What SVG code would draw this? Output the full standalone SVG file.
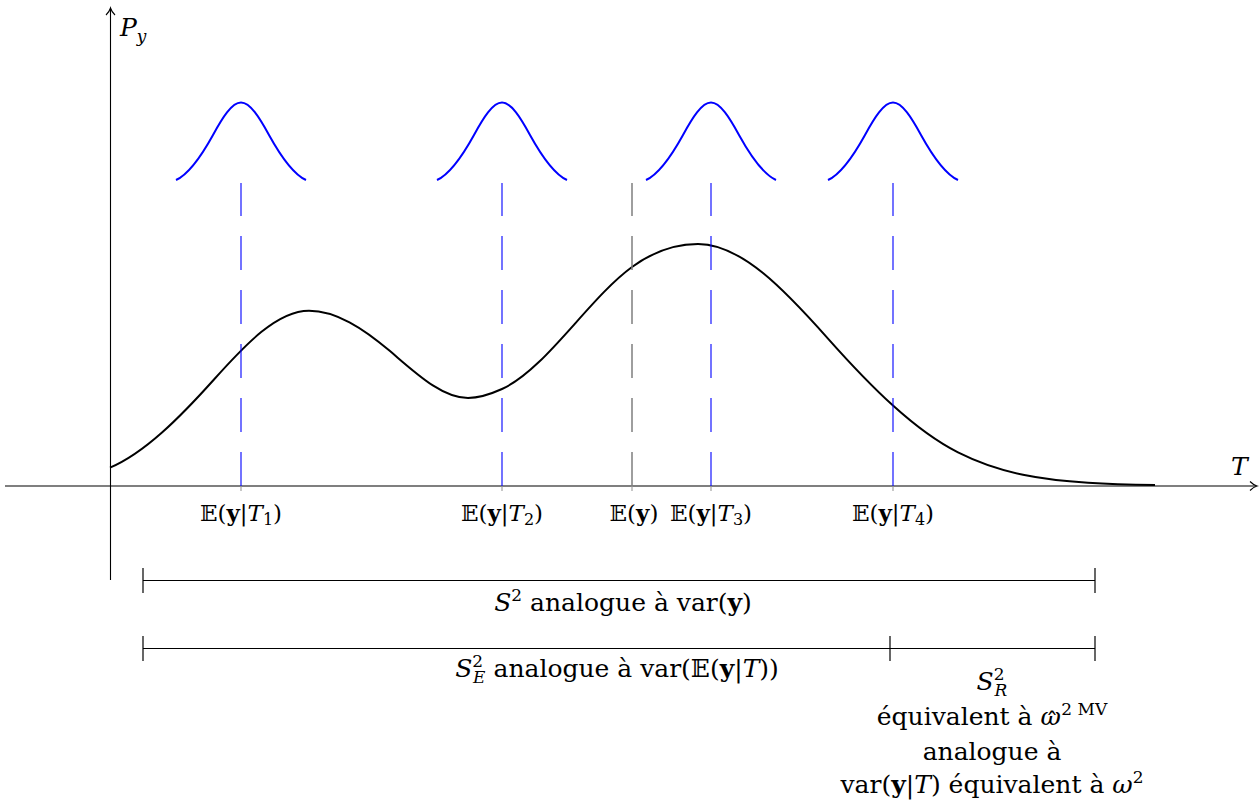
<svg xmlns="http://www.w3.org/2000/svg" width="1260" height="807" viewBox="0 0 1260 807">
<style>
text{font-family:'DejaVu Serif',serif;font-size:25px;fill:#000}
.tl{font-size:23px}
.i{font-style:italic}
.b{font-weight:bold}
.s{font-size:17px}
.ss{font-size:16px}
.ax{stroke:#000;stroke-width:1.1;fill:none}
.cv{stroke:#000;stroke-width:2;fill:none}
.bell{stroke:#0000ff;stroke-width:2;fill:none}
.vb{stroke:#0000ff;stroke-width:1.1;stroke-dasharray:34 20;fill:none}
.vg{stroke:#7f7f7f;stroke-width:1.5;stroke-dasharray:34 20;fill:none}
.tk{stroke:#999;stroke-width:1.1}
.br{stroke:#000;stroke-width:1.2;fill:none}
</style>
<defs>
<path id="bellp" d="M-65,180 C-52.67,174.28 -40.33,157.26 -28,134.9 C-18.67,117.98 -9.33,102.5 0,102.5 C9.33,102.5 18.67,117.98 28,134.9 C40.33,157.26 52.67,174.28 65,180"/>
</defs>
<rect width="1260" height="807" fill="#fff"/>
<g id="axes">
<line class="ax" x1="5" y1="486" x2="1256" y2="486"/>
<path class="ax" d="M1250,481.5 Q1253.5,485 1257,486 Q1253.5,487 1250,490.5"/>
<line class="ax" x1="110.5" y1="580" x2="110.5" y2="9"/>
<path class="ax" d="M106,15 Q109.5,11.5 110.5,8 Q111.5,11.5 115,15"/>
<text x="120" y="36"><tspan class="i">P</tspan><tspan class="s i" dy="6">y</tspan></text>
<text class="i" x="1231" y="475">T</text>
</g>
<g id="curve">
<path class="cv" d="M110,467.7 C144.7,452.8 179.3,418.2 214,379.5 C245.7,344.1 277.3,310.7 309,310.7 C336,310.7 363,328.2 390,351.1 C416,373.2 442,398 468,398 C479.3,398 490.7,394.1 502,389 C545.3,369.5 588.7,298.6 632,267 C654,250.9 676,244 698,244 C741.3,244 784.7,289.9 828,338.6 C871.3,387.3 914.7,430.5 958,452.4 C1001.3,474.3 1044.7,480 1088,482.75 C1110.3,484.2 1132.7,484.7 1155,485"/>
</g>
<g id="bells">
<g id="bell1"><use href="#bellp" class="bell" transform="translate(241,0)"/></g>
<g id="bell2"><use href="#bellp" class="bell" transform="translate(502,0)"/></g>
<g id="bell3"><use href="#bellp" class="bell" transform="translate(711,0)"/></g>
<g id="bell4"><use href="#bellp" class="bell" transform="translate(893,0)"/></g>
</g>
<g id="connectors">
<line class="vb" x1="241" y1="486" x2="241" y2="183"/>
<line class="vb" x1="502" y1="486" x2="502" y2="183"/>
<line class="vg" x1="632" y1="486" x2="632" y2="183"/>
<line class="vb" x1="711" y1="486" x2="711" y2="183"/>
<line class="vb" x1="893" y1="486" x2="893" y2="183"/>
<line class="tk" x1="241" y1="486" x2="241" y2="491"/>
<line class="tk" x1="502" y1="486" x2="502" y2="491"/>
<line class="tk" x1="632" y1="486" x2="632" y2="491"/>
<line class="tk" x1="711" y1="486" x2="711" y2="491"/>
<line class="tk" x1="893" y1="486" x2="893" y2="491"/>
</g>
<g id="ticklabels">
<text class="tl" x="241" y="521" text-anchor="middle">𝔼(<tspan class="b">y</tspan>|<tspan class="i">T</tspan><tspan class="ss" dy="4">1</tspan><tspan dy="-4">)</tspan></text>
<text class="tl" x="502" y="521" text-anchor="middle">𝔼(<tspan class="b">y</tspan>|<tspan class="i">T</tspan><tspan class="ss" dy="4">2</tspan><tspan dy="-4">)</tspan></text>
<text class="tl" x="634" y="521" text-anchor="middle">𝔼(<tspan class="b">y</tspan>)</text>
<text class="tl" x="711" y="521" text-anchor="middle">𝔼(<tspan class="b">y</tspan>|<tspan class="i">T</tspan><tspan class="ss" dy="4">3</tspan><tspan dy="-4">)</tspan></text>
<text class="tl" x="893" y="521" text-anchor="middle">𝔼(<tspan class="b">y</tspan>|<tspan class="i">T</tspan><tspan class="ss" dy="4">4</tspan><tspan dy="-4">)</tspan></text>
</g>
<g id="bracket1">
<line class="br" x1="143" y1="580.5" x2="1095" y2="580.5"/>
<line class="br" x1="143" y1="568" x2="143" y2="593"/>
<line class="br" x1="1095" y1="568" x2="1095" y2="593"/>
<text x="623" y="611" text-anchor="middle"><tspan class="i">S</tspan><tspan class="s" dy="-10">2</tspan><tspan dy="10"> analogue à var(</tspan><tspan class="b">y</tspan>)</text>
</g>
<g id="bracket2">
<line class="br" x1="143" y1="648.5" x2="1095" y2="648.5"/>
<line class="br" x1="143" y1="636" x2="143" y2="661"/>
<line class="br" x1="890" y1="636" x2="890" y2="661"/>
<line class="br" x1="1095" y1="636" x2="1095" y2="661"/>
<text x="617" y="677" text-anchor="middle" font-size="26"><tspan class="i">S</tspan><tspan class="s" dy="-10">2</tspan><tspan class="s i" dx="-10" dy="16">E</tspan><tspan dy="-6"> analogue à var(𝔼(</tspan><tspan class="b">y</tspan>|<tspan class="i">T</tspan>))</text>
</g>
<g id="residual">
<text x="992" y="690" text-anchor="middle"><tspan class="i">S</tspan><tspan class="s" dy="-10">2</tspan><tspan class="s i" dx="-10" dy="16">R</tspan></text>
<text x="992" y="725" text-anchor="middle">équivalent à <tspan class="i">ω</tspan><tspan dx="-15" dy="5">ˆ</tspan><tspan class="s" dx="3" dy="-15">2 MV</tspan></text>
<text x="992" y="760" text-anchor="middle">analogue à</text>
<text x="992" y="793" text-anchor="middle">var(<tspan class="b">y</tspan>|<tspan class="i">T</tspan>) équivalent à <tspan class="i">ω</tspan><tspan class="s" dy="-10">2</tspan></text>
</g>
</svg>
